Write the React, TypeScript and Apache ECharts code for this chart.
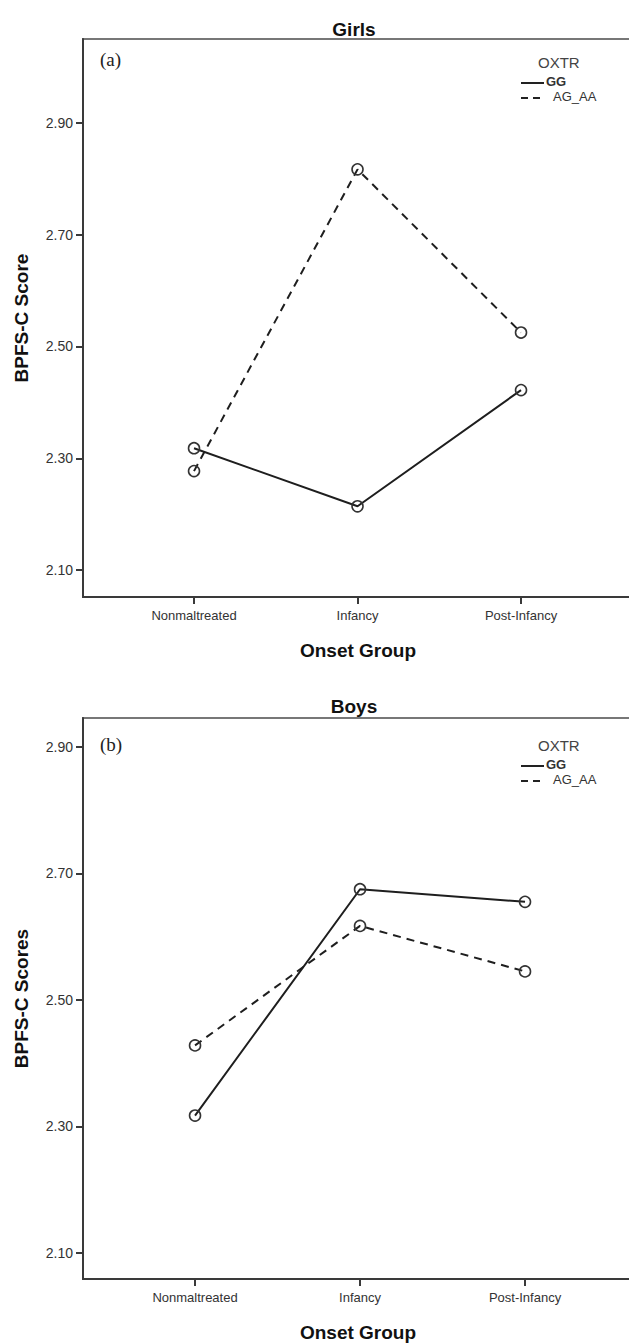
import React, { useEffect, useRef } from "react";
import * as echarts from "echarts";

const categories = ["Nonmaltreated", "Infancy", "Post-Infancy"];
const yTicks = [2.1, 2.3, 2.5, 2.7, 2.9];
const seriesNames = ["GG", "AG_AA"];

const girlsGG = [2.318, 2.214, 2.422];
const girlsAGAA = [2.277, 2.817, 2.525];
const boysGG = [2.317, 2.675, 2.655];
const boysAGAA = [2.428, 2.617, 2.545];

const toPoints = (vals: number[]) => vals.map((v, i) => [i, v]);

export default function App() {
  const ref = useRef<HTMLDivElement>(null);
  useEffect(() => {
    if (!ref.current) return;
    const chart = echarts.init(ref.current, null, { renderer: "svg" });
    const axisColor = "#3a3a3a";
    const lineColor = "#1e1e1e";
    const font = "Liberation Sans, Arial, sans-serif";

    const mkX = (gridIndex: number, max: number) => ({
      type: "value",
      gridIndex,
      min: -0.679,
      max,
      name: "Onset Group",
      nameLocation: "middle",
      nameGap: 44,
      nameTextStyle: { fontFamily: font, fontWeight: "bold", fontSize: 19, color: "#111", padding: [0, 10, 0, 0] },
      splitLine: { show: false },
      axisLine: { show: true, onZero: false, lineStyle: { color: axisColor, width: 2 } },
      axisTick: { show: true, length: 7, customValues: [0, 1, 2], lineStyle: { color: axisColor, width: 2 } },
      axisLabel: {
        customValues: [0, 1, 2],
        formatter: (v: number) => categories[Math.round(v)] ?? "",
        fontFamily: font,
        fontSize: 13,
        color: "#333",
        margin: 12,
      },
    });

    const mkY = (gridIndex: number, min: number, max: number, name: string) => ({
      type: "value",
      gridIndex,
      min,
      max,
      name,
      nameLocation: "middle",
      nameGap: 52,
      nameTextStyle: { fontFamily: font, fontWeight: "bold", fontSize: 19, color: "#111" },
      splitLine: { show: false },
      axisLine: { show: true, onZero: false, lineStyle: { color: axisColor, width: 2 } },
      axisTick: { show: true, length: 7, customValues: yTicks, lineStyle: { color: axisColor, width: 2 } },
      axisLabel: {
        customValues: yTicks,
        formatter: (v: number) => v.toFixed(2),
        fontFamily: font,
        fontSize: 14,
        color: "#333",
        margin: 10,
      },
    });

    const mkSeries = (name: string, vals: number[], idx: number, dashed: boolean) => ({
      type: "line",
      name,
      xAxisIndex: idx,
      yAxisIndex: idx,
      data: toPoints(vals),
      symbol: "circle",
      symbolSize: 11,
      itemStyle: { color: "rgba(0,0,0,0)", borderColor: "#333", borderWidth: 1.6 },
      lineStyle: { color: lineColor, width: 2, type: dashed ? [8, 6] : "solid" },
      z: 5,
    });

    const legend = (top: number) => [
      { type: "text", left: 538, top: top, style: { text: "OXTR", fontFamily: font, fontSize: 15, fill: "#444" } },
      { type: "line", shape: { x1: 521, y1: top + 28, x2: 544, y2: top + 28 }, style: { stroke: "#222", lineWidth: 2 } },
      { type: "text", left: 546, top: top + 20, style: { text: seriesNames[0], fontFamily: font, fontSize: 13, fontWeight: "bold", fill: "#333" } },
      { type: "line", shape: { x1: 521, y1: top + 43, x2: 544, y2: top + 43 }, style: { stroke: "#222", lineWidth: 2, lineDash: [7, 5] } },
      { type: "text", left: 553, top: top + 35, style: { text: seriesNames[1], fontFamily: font, fontSize: 13, fill: "#333" } },
    ];

    chart.setOption({
      animation: false,
      backgroundColor: "#fff",
      title: [
        { text: "Girls", left: 349, top: 15, textAlign: "center", textStyle: { fontFamily: font, fontWeight: "bold", fontSize: 19, color: "#111" } },
        { text: "Boys", left: 349, top: 692, textAlign: "center", textStyle: { fontFamily: font, fontWeight: "bold", fontSize: 19, color: "#111" } },
      ],
      grid: [
        { left: 83, top: 39, width: 560, height: 558, show: true, borderColor: "#777", borderWidth: 2, backgroundColor: "#fff" },
        { left: 83, top: 718, width: 560, height: 562, show: true, borderColor: "#777", borderWidth: 2, backgroundColor: "#fff" },
      ],
      xAxis: [mkX(0, 2.746), mkX(1, 2.715)],
      yAxis: [mkY(0, 2.0517, 3.0503, "BPFS-C Score"), mkY(1, 2.0585, 2.9458, "BPFS-C Scores")],
      series: [
        mkSeries(seriesNames[0], girlsGG, 0, false),
        mkSeries(seriesNames[1], girlsAGAA, 0, true),
        mkSeries(seriesNames[0], boysGG, 1, false),
        mkSeries(seriesNames[1], boysAGAA, 1, true),
      ],
      graphic: [
        { type: "text", left: 100, top: 50, style: { text: "(a)", fontFamily: "Liberation Serif, Times New Roman, serif", fontSize: 19, fill: "#222" } },
        { type: "text", left: 100, top: 735, style: { text: "(b)", fontFamily: "Liberation Serif, Times New Roman, serif", fontSize: 19, fill: "#222" } },
        ...legend(55),
        ...legend(738),
      ],
    });
    return () => chart.dispose();
  }, []);
  return <div ref={ref} style={{ position: "fixed", left: 0, top: 0, width: 660, height: 1343 }} />;
}
